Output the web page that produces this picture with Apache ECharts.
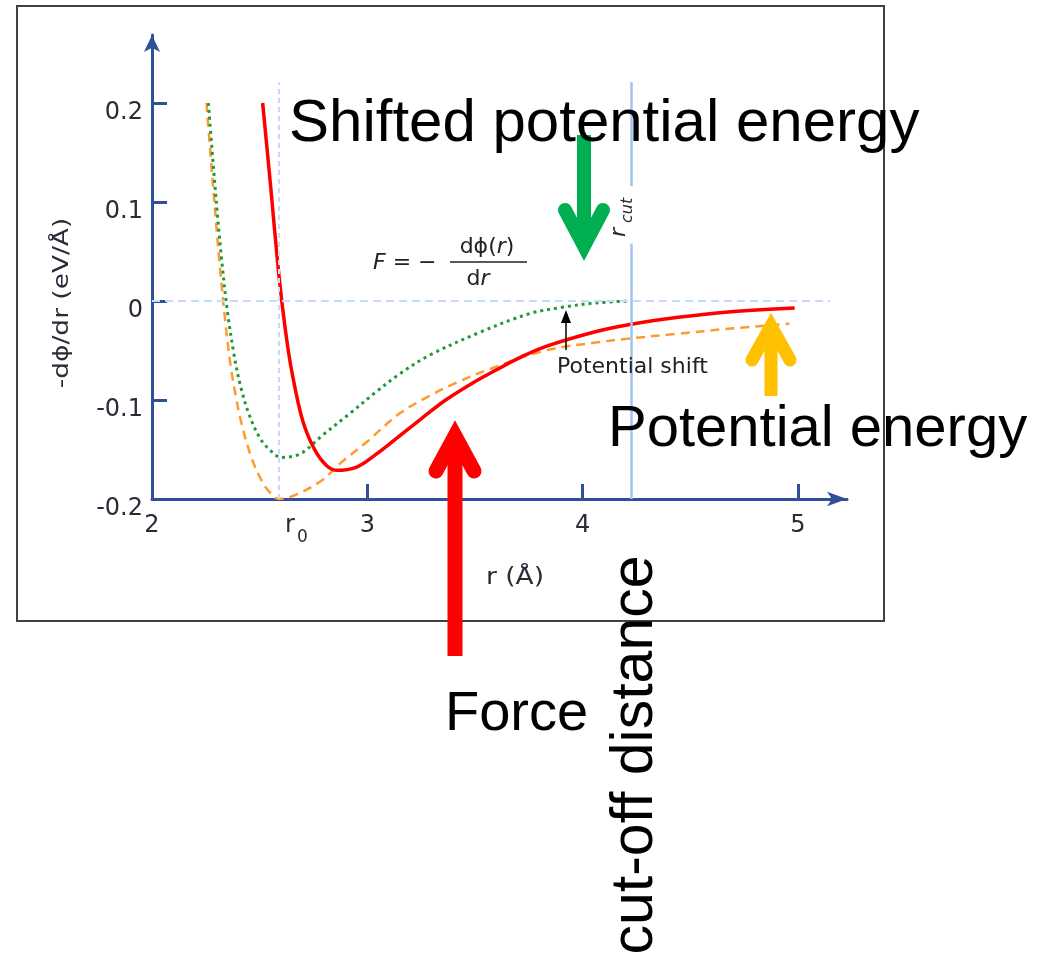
<!DOCTYPE html>
<html>
<head>
<meta charset="utf-8">
<script src="https://cdn.jsdelivr.net/npm/echarts@6/dist/echarts.min.js"></script>
<style>
  html, body { margin: 0; padding: 0; background: #fff; }
  #chart { width: 1038px; height: 956px; }
</style>
</head>
<body>
<div id="chart"></div>
<script>
// distances r (Å) and -dphi/dr values
const forceR = [2.514, 2.55, 2.59, 2.62, 2.65, 2.70, 2.755, 2.809, 2.855, 2.948, 3.04, 3.14, 3.25, 3.364, 3.48, 3.596, 3.71, 3.827, 4.059, 4.213, 4.444, 4.676, 4.985]
const forceV = [0.2, 0.118, 0.025, -0.03, -0.072, -0.121, -0.150, -0.166, -0.171, -0.168, -0.155, -0.138, -0.119, -0.100, -0.084, -0.070, -0.057, -0.046, -0.031, -0.024, -0.0165, -0.011, -0.007]

const potR = [2.253, 2.284, 2.313, 2.34, 2.365, 2.39, 2.415, 2.46, 2.508, 2.55, 2.59, 2.685, 2.79, 2.885, 2.994, 3.148, 3.287, 3.42, 3.565, 3.827, 4.059, 4.213, 4.444, 4.676, 4.96]
const potV = [0.2, 0.115, 0.04, -0.02, -0.065, -0.097, -0.123, -0.157, -0.181, -0.194, -0.2, -0.194, -0.181, -0.162, -0.143, -0.114, -0.096, -0.082, -0.069, -0.050, -0.042, -0.038, -0.033, -0.028, -0.023]

const shiftR = [2.262, 2.293, 2.322, 2.35, 2.38, 2.41, 2.45, 2.50, 2.55, 2.60, 2.65, 2.70, 2.79, 2.917, 3.04, 3.148, 3.287, 3.519, 3.75, 3.904, 4.059, 4.224]
const shiftV = [0.2, 0.115, 0.045, -0.01, -0.053, -0.085, -0.114, -0.138, -0.151, -0.158, -0.157, -0.153, -0.136, -0.114, -0.092, -0.074, -0.055, -0.032, -0.013, -0.0064, -0.002, 0]

const r0 = 2.59
const rCut = 4.224

const xLabels = [2, 3, 4, 5]
const xTicks = [3, 4, 5]
const yLabels = [-0.2, -0.1, 0, 0.1, 0.2]
const yTicks = [-0.1, 0, 0.1, 0.2]

const axisColor = '#2f4f96'
const guideColor = '#c6dbfa'
const labelFont = 'DejaVu Sans'
const bigFont = 'Liberation Sans'

function pairs(xs, ys) {
  return xs.map((x, i) => [x, ys[i]])
}

function guide(name, lines, style) {
  return {
    name: name,
    type: 'line',
    data: [],
    silent: true,
    markLine: {
      silent: true,
      symbol: 'none',
      label: { show: false },
      lineStyle: style,
      emphasis: { disabled: true },
      data: lines.map(l => [{ coord: l[0] }, { coord: l[1] }])
    }
  }
}

function arrow(x, tipY, endY, armDx, armDy, color, width) {
  // thick annotation arrow: shaft + chevron head
  const dir = endY > tipY ? 1 : -1
  return [
    {
      type: 'line', z: 100,
      shape: { x1: x, y1: tipY + dir * 2, x2: x, y2: endY },
      style: { stroke: color, lineWidth: width, lineCap: 'butt' }
    },
    {
      type: 'polyline', z: 100,
      shape: { points: [[x - armDx, tipY + dir * armDy], [x, tipY], [x + armDx, tipY + dir * armDy]] },
      style: { stroke: color, lineWidth: width, lineCap: 'round', lineJoin: 'miter', fill: null }
    }
  ]
}

const chart = echarts.init(document.getElementById('chart'))

chart.setOption({
  animation: false,
  grid: { left: 152, right: 191, top: 35, bottom: 457, containLabel: false },
  xAxis: {
    type: 'value',
    min: 2,
    max: 5.228,
    axisLine: {
      show: true,
      onZero: false,
      symbol: ['none', 'arrow'],
      symbolSize: [11, 20],
      lineStyle: { color: axisColor, width: 3 }
    },
    axisTick: { show: true, inside: true, length: 15, customValues: xTicks, lineStyle: { color: axisColor, width: 3 } },
    axisLabel: { customValues: xLabels, margin: 15, fontSize: 24, fontFamily: labelFont, color: '#2b2b38' },
    splitLine: { show: false }
  },
  yAxis: {
    type: 'value',
    min: -0.2,
    max: 0.2687,
    axisLine: {
      show: true,
      onZero: false,
      symbol: ['none', 'arrow'],
      symbolSize: [12, 17],
      lineStyle: { color: axisColor, width: 3 }
    },
    axisTick: { show: true, inside: true, length: 15, customValues: yTicks, lineStyle: { color: axisColor, width: 3 } },
    axisLabel: {
      customValues: yLabels, margin: 9, fontSize: 24, fontFamily: labelFont, color: '#2b2b38',
      verticalAlign: 'top', lineHeight: 20,
      formatter: v => (v === 0 ? '0' : String(v))
    },
    splitLine: { show: false }
  },
  series: [
    guide('zero', [[[2, 0], [5.149, 0]]], { color: guideColor, type: [8, 5], width: 2 }),
    guide('r0', [[[r0, -0.2], [r0, 0.221]]], { color: guideColor, type: [5, 4], width: 2 }),
    guide('rcut', [[[rCut, -0.2], [rCut, 0.058]], [[rCut, 0.116], [rCut, 0.221]]], { color: '#9ec3f5', type: 'solid', width: 2.5 }),
    {
      name: 'Potential energy',
      type: 'line',
      data: pairs(potR, potV),
      smooth: 0.35,
      symbol: 'none',
      lineStyle: { color: '#ff9a2e', width: 2.5, type: [9, 6] }
    },
    {
      name: 'Shifted potential energy',
      type: 'line',
      data: pairs(shiftR, shiftV),
      smooth: 0.35,
      symbol: 'none',
      lineStyle: { color: '#1f9a35', width: 3, type: [3, 4] }
    },
    {
      name: 'Force',
      type: 'line',
      data: pairs(forceR, forceV),
      smooth: 0.35,
      symbol: 'none',
      lineStyle: { color: '#ff0000', width: 3.5 }
    }
  ],
  graphic: [
    // figure frame
    { type: 'rect', z: 1, shape: { x: 17, y: 6, width: 867, height: 615 }, style: { fill: null, stroke: '#404040', lineWidth: 2 } },
    // axis names
    {
      type: 'text', z: 50, x: 62, y: 303, rotation: Math.PI / 2, scaleX: 1.2,
      style: { text: '-dϕ/dr (eV/Å)', font: '22px "DejaVu Sans"', fill: '#2b2b38', align: 'center', verticalAlign: 'middle' }
    },
    {
      type: 'text', z: 50, x: 515, y: 578, scaleX: 1.15,
      style: { text: 'r (Å)', font: '23px "DejaVu Sans"', fill: '#2b2b38', align: 'center', verticalAlign: 'middle' }
    },
    // r0 label
    { type: 'text', z: 50, x: 285, y: 538, style: { text: 'r', font: '24px "DejaVu Sans"', fill: '#2b2b38', align: 'left', verticalAlign: 'bottom' } },
    { type: 'text', z: 50, x: 297, y: 546, style: { text: '0', font: '17px "DejaVu Sans"', fill: '#2b2b38', align: 'left', verticalAlign: 'bottom' } },
    // r_cut label
    {
      type: 'group', x: 622, y: 230, rotation: Math.PI / 2, z: 50,
      children: [
        { type: 'text', x: -7, y: 8, style: { text: 'r', font: 'italic 22px "DejaVu Sans"', fill: '#2b2b38', align: 'left', verticalAlign: 'bottom' } },
        { type: 'text', x: 7, y: 14, style: { text: 'cut', font: 'italic 16px "DejaVu Sans"', fill: '#2b2b38', align: 'left', verticalAlign: 'bottom' } }
      ]
    },
    // formula F = -dphi(r)/dr
    {
      type: 'text', z: 50, x: 373, y: 263,
      style: {
        text: '{i|F} = −', font: '22px "DejaVu Sans"', fill: '#222', align: 'left', verticalAlign: 'middle',
        rich: { i: { fontStyle: 'italic', fontSize: 22, fontFamily: labelFont } }
      }
    },
    {
      type: 'text', z: 50, x: 487, y: 247,
      style: {
        text: 'dϕ({i|r})', font: '22px "DejaVu Sans"', fill: '#222', align: 'center', verticalAlign: 'middle',
        rich: { i: { fontStyle: 'italic', fontSize: 22, fontFamily: labelFont } }
      }
    },
    { type: 'line', z: 50, shape: { x1: 450, y1: 262, x2: 527, y2: 262 }, style: { stroke: '#222', lineWidth: 1.5 } },
    {
      type: 'text', z: 50, x: 478, y: 279,
      style: {
        text: 'd{i|r}', font: '22px "DejaVu Sans"', fill: '#222', align: 'center', verticalAlign: 'middle',
        rich: { i: { fontStyle: 'italic', fontSize: 22, fontFamily: labelFont } }
      }
    },
    // potential shift marker
    { type: 'line', z: 50, shape: { x1: 566, y1: 350, x2: 566, y2: 318 }, style: { stroke: '#000', lineWidth: 1.5 } },
    { type: 'polygon', z: 50, shape: { points: [[561, 323], [571, 323], [566, 310]] }, style: { fill: '#000' } },
    { type: 'text', z: 50, x: 557, y: 367, style: { text: 'Potential shift', font: '22px "DejaVu Sans"', fill: '#222', align: 'left', verticalAlign: 'middle' } },
    // big annotations
    ...arrow(584, 246, 135, 19, 36, '#00b050', 14),
    ...arrow(455, 436, 656, 19, 35, '#ff0000', 15),
    ...arrow(771, 326, 396, 19, 34, '#ffc000', 13),
    { type: 'text', z: 110, x: 289, y: 124, style: { text: 'Shifted potential energy', font: '60px "' + bigFont + '"', fill: '#000', align: 'left', verticalAlign: 'middle' } },
    { type: 'text', z: 110, x: 608, y: 430, style: { text: 'Potential energy', font: '58px "' + bigFont + '"', fill: '#000', align: 'left', verticalAlign: 'middle' } },
    { type: 'text', z: 110, x: 445, y: 715, style: { text: 'Force', font: '56px "' + bigFont + '"', fill: '#000', align: 'left', verticalAlign: 'middle' } },
    {
      type: 'text', z: 110, x: 636, y: 755, rotation: Math.PI / 2,
      style: { text: 'cut-off distance', font: '59px "' + bigFont + '"', fill: '#000', align: 'center', verticalAlign: 'middle' }
    }
  ]
})
</script>
</body>
</html>
